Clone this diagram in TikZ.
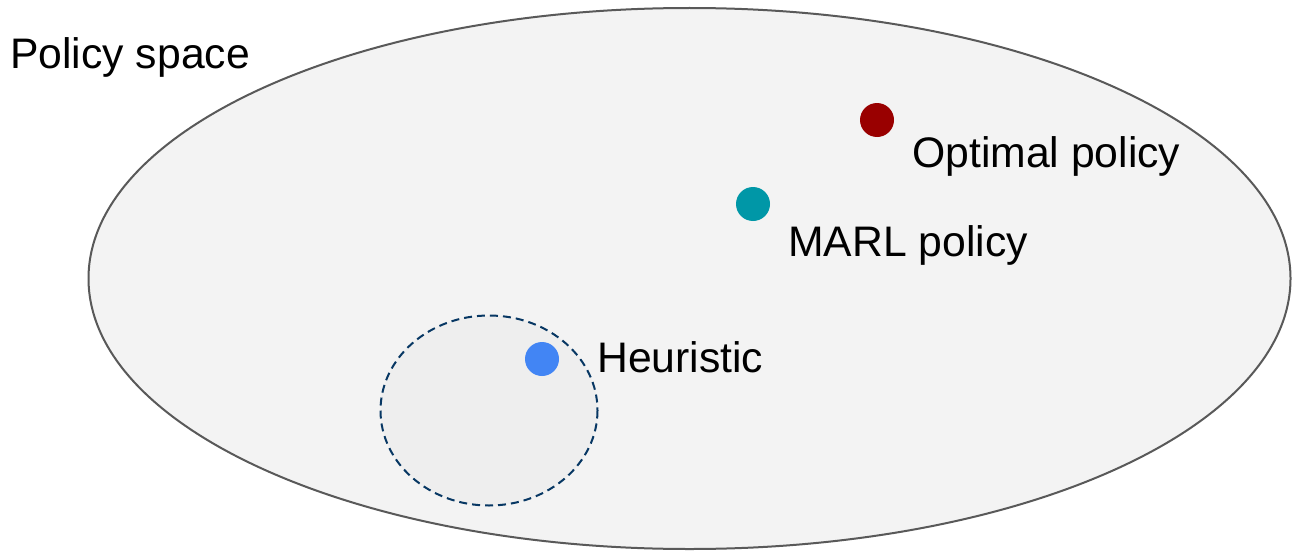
\documentclass[tikz,border=0pt]{standalone}
\usepackage{fontspec}
\setmainfont{Liberation Sans}
\definecolor{spacefill}{HTML}{F3F3F3}
\definecolor{spaceline}{HTML}{595959}
\definecolor{regionfill}{HTML}{EEEEEE}
\definecolor{regionline}{HTML}{073763}
\definecolor{optred}{HTML}{990000}
\definecolor{marlteal}{HTML}{0097A7}
\definecolor{heurblue}{HTML}{4285F4}
\tikzset{
  dot/.style={circle, inner sep=0pt, minimum size=34pt},
  lbl/.style={anchor=base west, inner sep=0pt, font=\fontsize{42.7}{50}\selectfont},
}
\begin{document}
\begin{tikzpicture}[x=1pt, y=-1pt]
\useasboundingbox (0,0) rectangle (1292,551);
\fill[white] (0,0) rectangle (1292,551);
% policy space
\draw[spaceline, fill=spacefill, line width=2pt] (689.5,278.5) ellipse [x radius=601, y radius=270.5];
% neighbourhood of the heuristic
\draw[regionline, fill=regionfill, line width=2pt, dash pattern=on 8pt off 5pt]
  (489,410.5) ellipse [x radius=108.5, y radius=95];
% policies
\node[dot, fill=optred] (opt) at (877,120) {};
\node[dot, fill=marlteal] (marl) at (753,204) {};
\node[dot, fill=heurblue] (heur) at (542,359) {};
% labels
\node[lbl] (space) at (10,68) {Policy space};
\node[lbl] (optlbl) at (912,167) {Optimal policy};
\node[lbl] (marllbl) at (788,256) {MARL policy};
\node[lbl] (heurlbl) at (597,372) {Heuristic};
\end{tikzpicture}
\end{document}
